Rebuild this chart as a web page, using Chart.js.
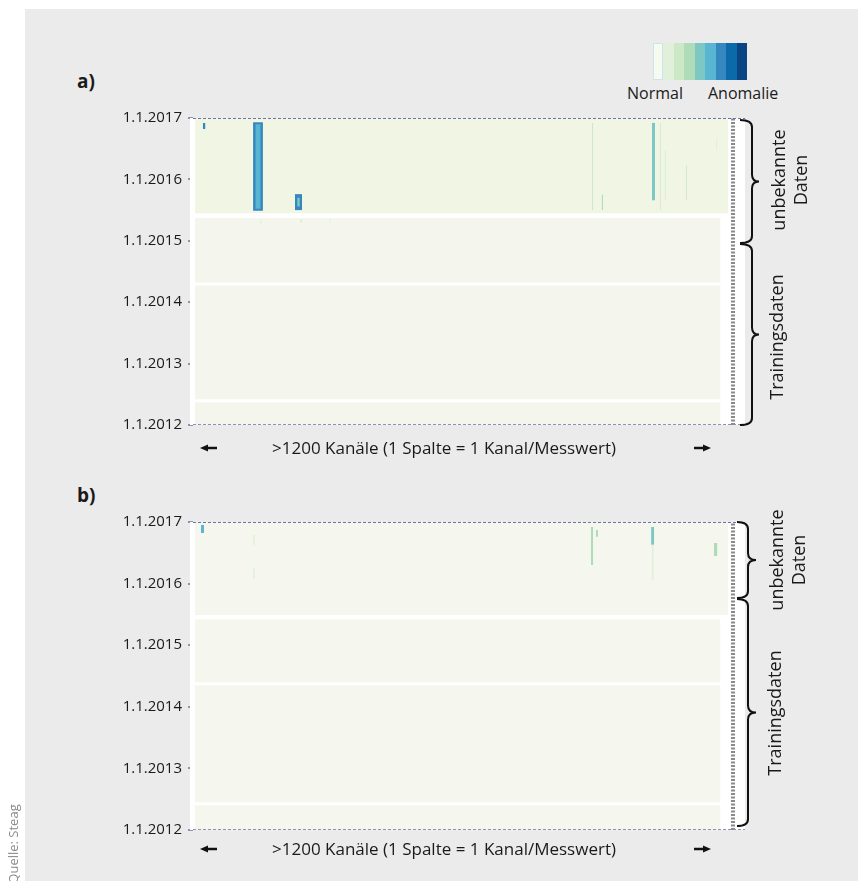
<!DOCTYPE html>
<html><head><meta charset="utf-8">
<script src="https://cdn.jsdelivr.net/npm/chart.js@4.4.1/dist/chart.umd.min.js"></script>
<style>
html,body{margin:0;padding:0;background:#fff;width:858px;height:881px;overflow:hidden;font-family:"Open Sans",sans-serif;color:#1a1a1a;}
#panel{position:absolute;left:25px;top:9px;right:0;bottom:0;background:#ebebeb;}
canvas{position:absolute;}
.t{position:absolute;white-space:nowrap;}
.c{transform:translate(-50%,-50%);}
.r{transform:translate(-50%,-50%) rotate(-90deg);text-align:center;line-height:22px;font-size:18px;}
#legend{position:absolute;left:653px;top:43px;height:37px;display:flex;}
#legend div{width:10.5px;height:37px;}
</style></head><body>
<div id="panel"></div>

<div class="t" style="left:77px;top:68px;font-size:19px;font-weight:700">a)</div>
<div class="t" style="left:77px;top:482px;font-size:19px;font-weight:700">b)</div>

<div id="legend"></div>
<div class="t" style="left:627px;top:82px;font-size:16px">Normal</div>
<div class="t" style="left:708px;top:82px;font-size:16px">Anomalie</div>

<canvas id="ca" width="645" height="340" style="left:100px;top:100px"></canvas>
<canvas id="cb" width="645" height="341" style="left:100px;top:504px"></canvas>
<svg width="858" height="881" style="position:absolute;left:0;top:0" id="braces"></svg>

<div class="t c" style="left:444px;top:447px;font-size:17px">&gt;1200 Kanäle (1 Spalte = 1 Kanal/Messwert)</div>
<div class="t c" style="left:444px;top:848px;font-size:17px">&gt;1200 Kanäle (1 Spalte = 1 Kanal/Messwert)</div>

<div class="t r" style="left:789px;top:180px">unbekannte<br>Daten</div>
<div class="t r" style="left:776px;top:337px">Trainingsdaten</div>
<div class="t r" style="left:787px;top:560px">unbekannte<br>Daten</div>
<div class="t r" style="left:774px;top:713px">Trainingsdaten</div>

<div class="t" style="left:13px;top:844px;font-size:13px;color:#8a8a8a;transform:translate(-50%,-50%) rotate(-90deg)">Quelle: Steag</div>

<script>
// ---- data ----
const yearLabels = ['1.1.2012','1.1.2013','1.1.2014','1.1.2015','1.1.2016','1.1.2017'];
const yearValues = [2012, 2013, 2014, 2015, 2016, 2017];
const channelRange = [0, 1240];
const monitorChannel = 1213;
// anomaly score scale (Normal -> Anomalie)
const scoreLevels = [0,1,2,3,4,5,6,7,8];

// cell blocks: [channelFrom, channelTo, timeFrom, timeTo]
const unknownBlocksA  = [[4, 1202, 2015.45, 2017]];
const trainingBlocksA = [[4, 1185, 2014.32, 2015.37], [4, 1185, 2012.42, 2014.27], [4, 1185, 2012, 2012.37]];
const unknownBlocksB  = [[4, 1202, 2015.49, 2017]];
const trainingBlocksB = [[4, 1185, 2014.40, 2015.42], [4, 1185, 2012.45, 2014.35], [4, 1185, 2012, 2012.40]];

// anomalies: [channelFrom, channelTo, timeFrom, timeTo, score]
const anomaliesA = [
  [135, 157, 2015.49, 2016.93, 6],
  [140, 152, 2015.52, 2016.90, 5],
  [229, 245, 2015.50, 2015.76, 6],
  [234, 240, 2015.56, 2015.70, 4],
  [22, 28, 2016.82, 2016.92, 6],
  [896, 899, 2015.50, 2016.92, 2],
  [918, 921, 2015.50, 2015.75, 3],
  [1031, 1038, 2015.66, 2016.92, 4],
  [1049, 1051, 2015.50, 2016.92, 2],
  [1060, 1062, 2015.66, 2016.48, 2],
  [1107, 1109, 2015.66, 2016.23, 3],
  [1175, 1178, 2016.48, 2016.67, 1],
  [150, 154, 2015.28, 2015.34, 1],
  [240, 246, 2015.30, 2015.35, 1],
  [306, 309, 2015.29, 2015.36, 1]
];
const anomaliesB = [
  [18, 25, 2016.82, 2016.95, 5],
  [135, 139, 2016.63, 2016.79, 1],
  [135, 139, 2016.07, 2016.26, 1],
  [894, 899, 2016.30, 2016.92, 3],
  [905, 910, 2016.76, 2016.87, 3],
  [1029, 1036, 2016.63, 2016.92, 4],
  [1030, 1035, 2016.06, 2016.63, 1],
  [1170, 1178, 2016.45, 2016.66, 3]
];

// ---- styles ----
const palette = ['#f4f9ec','#e0f0db','#cde8c7','#aedcb8','#7dc8c2','#5ab5d2','#3488bf','#0b6aaa','#0b4483'];
const legendEl = document.getElementById('legend');
scoreLevels.forEach(l => {
  const d = document.createElement('div');
  d.style.background = l === 0 ? '#f6fbef' : palette[l];
  if (l === 0) { d.style.boxShadow = 'inset 0 0 0 1px #cfe3ee'; d.style.width = '10px'; }
  legendEl.appendChild(d);
});

// braces & arrows
const svg = document.getElementById('braces');
const NS = 'http://www.w3.org/2000/svg';
function brace(x0, x1, x2, y0, y1) {
  const ym = (y0 + y1) / 2, r = 7;
  const p = document.createElementNS(NS, 'path');
  p.setAttribute('d', `M${x0} ${y0} Q${x1} ${y0} ${x1} ${y0 + r} L${x1} ${ym - r} Q${x1} ${ym} ${x2} ${ym} Q${x1} ${ym} ${x1} ${ym + r} L${x1} ${y1 - r} Q${x1} ${y1} ${x0} ${y1}`);
  p.setAttribute('fill', 'none'); p.setAttribute('stroke', '#111'); p.setAttribute('stroke-width', '2');
  svg.appendChild(p);
}
brace(740, 752, 759, 120, 243);
brace(740, 752, 759, 244, 425);
brace(737, 748, 756, 522, 598);
brace(737, 748, 756, 599, 826);
function arrow(xTail, xHead, y) {
  const dir = Math.sign(xHead - xTail);
  const l = document.createElementNS(NS, 'line');
  l.setAttribute('x1', xTail); l.setAttribute('y1', y); l.setAttribute('x2', xHead - dir * 6); l.setAttribute('y2', y);
  l.setAttribute('stroke', '#111'); l.setAttribute('stroke-width', '2.5');
  svg.appendChild(l);
  const h = document.createElementNS(NS, 'path');
  h.setAttribute('d', `M${xHead} ${y} L${xHead - dir * 8} ${y - 3.5} L${xHead - dir * 8} ${y + 3.5} Z`);
  h.setAttribute('fill', '#111');
  svg.appendChild(h);
}
arrow(217, 200, 448); arrow(694, 711, 448);
arrow(217, 200, 849); arrow(694, 711, 849);

function rect(b, color, order) {
  return { data: [{x: b[0], y: b[3]}, {x: b[1], y: b[3]}], fill: {value: b[2]},
    backgroundColor: color, borderColor: 'transparent', borderWidth: 0, pointRadius: 0, order: order };
}
function hline(y, color, dash, width) {
  return { data: [{x: channelRange[0], y: y}, {x: channelRange[1], y: y}], fill: false,
    borderColor: color, borderWidth: width, borderDash: dash, pointRadius: 0, order: 0 };
}
function vline(ch, color) {
  return { data: [{x: ch, y: yearValues[0]}, {x: ch, y: yearValues[yearValues.length - 1]}], fill: false,
    borderColor: color, borderWidth: 4, borderDash: [2, 1.5], pointRadius: 0, order: 0 };
}

const whiteArea = {
  id: 'whiteArea',
  beforeDatasetsDraw(chart) {
    const {ctx, chartArea: a} = chart;
    ctx.save(); ctx.fillStyle = '#ffffff';
    ctx.fillRect(a.left - 3, a.top, a.right - a.left + 3, a.bottom - a.top);
    ctx.restore();
  }
};

function makeChart(id, unknownBlocks, trainingBlocks, anomalies, unknownColor, trainColor) {
  const ds = [];
  unknownBlocks.forEach(b => ds.push(rect(b, unknownColor, 20)));
  trainingBlocks.forEach(b => ds.push(rect(b, trainColor, 20)));
  anomalies.forEach(a => ds.push(rect(a, palette[a[4]], 10 + a[4])));
  ds.push(hline(yearValues[yearValues.length - 1], '#6b74aa', [3, 2], 2));
  ds.push(hline(yearValues[0], '#8c93b5', [3, 2], 2));
  ds.push(vline(monitorChannel, '#8a8a8a'));
  return new Chart(document.getElementById(id), {
    type: 'line',
    data: { datasets: ds },
    plugins: [whiteArea],
    options: {
      responsive: false, animation: false, events: [],
      layout: { padding: { top: 18, bottom: 15, left: 0, right: 0 } },
      plugins: { legend: { display: false }, tooltip: { enabled: false } },
      scales: {
        x: { type: 'linear', min: channelRange[0], max: channelRange[1], display: false },
        y: {
          type: 'linear', min: yearValues[0], max: yearValues[yearValues.length - 1],
          afterFit(s) { s.width = 93; },
          afterBuildTicks(s) { s.ticks = yearValues.map(v => ({ value: v })); },
          ticks: { padding: 6, color: '#1a1a1a', font: { family: '"Open Sans", sans-serif', size: 15 },
            callback: (v) => yearLabels[yearValues.indexOf(v)] },
          grid: { drawOnChartArea: false, drawTicks: true, tickLength: 5, color: '#8a93b0', lineWidth: 2 },
          border: { display: false }
        }
      }
    }
  });
}
makeChart('ca', unknownBlocksA, trainingBlocksA, anomaliesA, '#f1f5e3', '#f4f6ed');
makeChart('cb', unknownBlocksB, trainingBlocksB, anomaliesB, '#f5f7ee', '#f5f7ee');
</script>
</body></html>
